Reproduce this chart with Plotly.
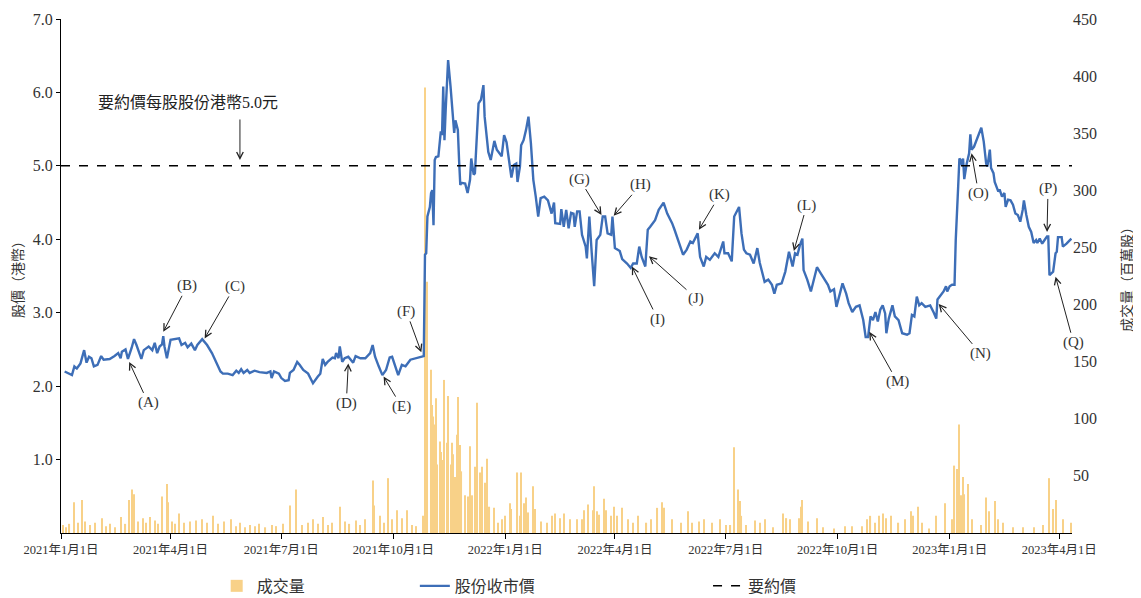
import pandas as pd
import plotly.graph_objects as go

# ---------------- data ----------------
BASE = "2021-01-01"
# closing price (HK$), day offsets from 2021-01-01
price_day = [3, 6, 9, 11, 13, 16, 19, 21, 23, 25, 27, 30, 33, 35, 40, 44, 47, 49, 50, 53, 55, 58, 60, 62, 66, 68, 72, 75, 77, 79,
             81, 83, 84, 85, 87, 90, 93, 97, 99, 102, 104, 107, 110, 112, 116, 120, 124, 128, 131, 133, 137, 141, 144, 146, 148,
             150, 153, 155, 159, 163, 169, 172, 173, 175, 179, 181, 184, 187, 188, 191, 194, 196, 199, 203, 207, 211, 213, 215,
             217, 219, 221, 223, 225, 226, 228, 229, 231, 233, 236, 240, 242, 246, 250, 254, 256, 258, 261, 264, 267, 270, 272,
             274, 277, 280, 283, 287, 292, 296, 298, 299, 300, 301, 303, 304, 305, 306, 307, 308, 310, 312, 313, 314, 315, 316,
             318, 320, 323, 324, 326, 327, 328, 329, 332, 334, 336, 337, 339, 340, 343, 345, 347, 348, 351, 353, 356, 358, 360,
             362, 364, 366, 368, 370, 372, 374, 375, 377, 378, 380, 382, 384, 386, 388, 390, 392, 394, 397, 400, 403, 405, 406,
             410, 411, 413, 415, 417, 419, 421, 422, 424, 426, 428, 431, 432, 434, 436, 438, 440, 443, 445, 447, 449, 452, 453,
             455, 459, 461, 465, 468, 470, 473, 475, 477, 480, 482, 484, 488, 491, 495, 498, 502, 504, 507, 511, 514, 517, 519,
             523, 525, 528, 530, 533, 537, 540, 544, 545, 548, 551, 553, 557, 559, 561, 563, 566, 569, 572, 574, 578, 581, 584,
             586, 588, 592, 595, 598, 601, 603, 605, 607, 609, 610, 613, 616, 619, 621, 624, 627, 630, 632, 635, 637, 639, 642,
             645, 647, 650, 653, 656, 659, 661, 663, 665, 667, 669, 671, 673, 675, 677, 678, 680, 683, 685, 688, 691, 695, 697,
             699, 701, 703, 705, 707, 710, 714, 717, 719, 720, 722, 725, 727, 728, 730, 732, 734, 735, 737, 738, 739, 740, 741,
             742, 744, 745, 746, 747, 748, 750, 752, 756, 758, 760, 761, 763, 764, 766, 767, 769, 770, 771, 773, 775, 776, 778,
             780, 782, 784, 786, 788, 790, 791, 793, 795, 797, 799, 801, 802, 804, 806, 808, 810, 811, 812, 815, 817, 818, 819,
             822, 823, 826, 830]
price_hkd = [2.20, 2.18, 2.15, 2.27, 2.24, 2.31, 2.49, 2.32, 2.40, 2.38, 2.27, 2.29, 2.41, 2.36, 2.37, 2.41, 2.45, 2.38, 2.47,
             2.50, 2.37, 2.52, 2.64, 2.56, 2.37, 2.49, 2.54, 2.49, 2.59, 2.45, 2.54, 2.57, 2.68, 2.54, 2.38, 2.63, 2.64, 2.65,
             2.56, 2.59, 2.53, 2.58, 2.49, 2.56, 2.64, 2.56, 2.45, 2.31, 2.20, 2.17, 2.17, 2.15, 2.21, 2.18, 2.23, 2.18, 2.22,
             2.18, 2.21, 2.19, 2.18, 2.20, 2.11, 2.20, 2.17, 2.11, 2.07, 2.08, 2.18, 2.22, 2.33, 2.29, 2.22, 2.17, 2.04, 2.13,
             2.17, 2.37, 2.29, 2.33, 2.36, 2.39, 2.38, 2.45, 2.38, 2.54, 2.33, 2.38, 2.40, 2.32, 2.41, 2.38, 2.38, 2.45, 2.56,
             2.40, 2.27, 2.15, 2.22, 2.39, 2.40, 2.29, 2.15, 2.29, 2.27, 2.36, 2.38, 2.40, 2.41, 3.79, 3.81, 4.31, 4.44, 4.63,
             4.67, 4.19, 5.08, 5.12, 5.13, 5.47, 5.42, 6.08, 5.35, 5.76, 6.44, 6.08, 5.45, 5.62, 5.49, 5.08, 4.74, 4.77, 4.76,
             4.63, 4.81, 5.10, 4.88, 4.90, 5.85, 5.90, 6.10, 5.67, 5.19, 5.08, 5.34, 5.22, 5.18, 5.13, 5.42, 5.32, 5.08, 4.84,
             5.01, 5.03, 4.78, 4.99, 5.28, 5.35, 5.49, 5.67, 5.31, 4.81, 4.58, 4.31, 4.56, 4.58, 4.53, 4.35, 4.50, 4.22, 4.21,
             4.41, 4.17, 4.40, 4.15, 4.36, 4.35, 4.17, 4.38, 4.38, 4.06, 3.90, 3.74, 4.31, 3.81, 3.36, 3.99, 4.06, 4.31, 4.31,
             4.08, 4.06, 4.31, 3.88, 3.84, 3.73, 3.67, 3.61, 3.67, 3.67, 3.90, 3.76, 3.63, 4.13, 4.17, 4.26, 4.40, 4.50, 4.35,
             4.22, 4.13, 3.99, 3.79, 3.86, 3.97, 3.95, 4.08, 3.76, 3.63, 3.76, 3.72, 3.81, 3.76, 3.97, 3.81, 3.81, 3.70, 4.31,
             4.44, 4.08, 3.86, 3.81, 3.79, 3.67, 3.88, 3.68, 3.42, 3.45, 3.38, 3.26, 3.38, 3.40, 3.56, 3.83, 3.63, 3.81, 3.79,
             3.92, 4.01, 3.58, 3.45, 3.29, 3.49, 3.62, 3.54, 3.45, 3.38, 3.29, 3.32, 3.08, 3.22, 3.40, 3.26, 3.13, 3.01, 3.08,
             3.10, 2.90, 2.67, 2.67, 2.95, 2.90, 3.01, 2.88, 3.04, 3.10, 2.99, 2.72, 2.92, 3.10, 2.95, 2.90, 2.72, 2.70, 2.72,
             2.97, 2.95, 3.22, 3.10, 3.13, 3.08, 3.10, 3.00, 2.92, 3.18, 3.22, 3.29, 3.36, 3.29, 3.36, 3.38, 3.38, 3.99, 4.72,
             5.10, 5.08, 5.01, 5.10, 4.82, 5.03, 5.12, 5.17, 5.43, 5.22, 5.26, 5.35, 5.52, 5.33, 5.03, 4.99, 5.22, 4.97, 4.90,
             4.78, 4.69, 4.65, 4.68, 4.58, 4.63, 4.44, 4.54, 4.53, 4.47, 4.35, 4.33, 4.24, 4.40, 4.53, 4.33, 4.17, 4.10, 3.95,
             3.99, 3.95, 4.01, 3.94, 3.99, 4.04, 4.04, 3.51, 3.56, 3.81, 3.83, 4.03, 4.03, 3.90, 3.94, 4.01]

# trading volume (million shares), day offsets from 2021-01-01
vol_day = [2, 4, 7, 11, 14, 17, 20, 24, 28, 34, 37, 40, 44, 49, 53, 56, 58, 60, 63, 67, 70, 73, 77, 80, 83, 87, 88, 91, 94, 97,
           101, 106, 111, 116, 120, 125, 129, 134, 140, 144, 147, 151, 155, 159, 163, 168, 173, 177, 182, 188, 193, 198, 203,
           207, 211, 215, 219, 223, 229, 233, 237, 242, 246, 250, 256, 257, 262, 265, 269, 272, 276, 280, 284, 288, 292, 297,
           299, 301, 304, 305, 306, 307, 308, 309, 311, 312, 314, 315, 317, 318, 320, 321, 322, 324, 325, 326, 328, 329, 332,
           334, 336, 338, 340, 342, 344, 346, 348, 349, 350, 352, 356, 359, 362, 365, 369, 370, 375, 377, 378, 380, 382, 384,
           388, 389, 394, 399, 403, 406, 410, 413, 418, 424, 428, 430, 433, 437, 438, 440, 442, 446, 448, 452, 454, 457, 461,
           466, 470, 474, 481, 485, 490, 494, 495, 502, 509, 515, 518, 524, 528, 535, 541, 546, 550, 553, 556, 558, 559, 563,
           570, 574, 578, 585, 593, 596, 599, 606, 608, 609, 614, 621, 626, 635, 644, 650, 658, 662, 665, 669, 672, 675, 678,
           682, 688, 693, 698, 700, 704, 707, 713, 719, 726, 732, 734, 736, 738, 739, 741, 742, 745, 748, 756, 760, 762, 767,
           770, 774, 782, 790, 799, 807, 812, 815, 817, 823, 830]
vol_mn = [7, 5, 8, 27, 9, 29, 10, 7, 9, 13, 6, 8, 5, 14, 8, 29, 38, 34, 10, 13, 9, 14, 11, 8, 32, 43, 27, 10, 8, 17,
          9, 10, 11, 12, 9, 15, 8, 10, 12, 6, 9, 5, 7, 6, 8, 5, 7, 6, 8, 24, 38, 7, 9,
          12, 8, 14, 7, 9, 23, 10, 8, 11, 7, 12, 46, 24, 15, 9, 48, 12, 20, 13, 20, 7, 6, 15,
          390, 220, 143, 112, 102, 95, 118, 60, 80, 71, 64, 134, 79, 120, 60, 79, 69, 49, 86, 119, 77, 54, 33,
          32, 76, 33, 58, 114, 53, 58, 44, 23, 65, 23, 22, 9, 12, 15, 26, 21, 53, 15, 53, 26, 31, 18,
          41, 21, 10, 9, 15, 17, 13, 17, 12, 12, 12, 20, 25, 20, 41, 19, 16, 30, 20, 15, 23, 15, 22,
          12, 9, 15, 9, 12, 22, 27, 22, 12, 9, 19, 9, 10, 12, 9, 12, 7, 7, 75, 38, 28, 15, 7,
          11, 9, 12, 5, 17, 13, 12, 13, 23, 29, 10, 13, 5, 4, 6, 6, 6, 12, 15, 9, 15, 17, 13,
          15, 9, 12, 19, 15, 23, 9, 4, 15, 26, 12, 59, 56, 95, 33, 49, 34, 43, 12, 7, 31, 19, 28,
          12, 9, 5, 5, 5, 7, 48, 21, 29, 12, 9]

offer_price = 5.0
x_start, x_end = "2021-01-01", "2023-04-11 12:00"

x_tick_dates = ["2021-01-01", "2021-04-01", "2021-07-01", "2021-10-01", "2022-01-01",
                "2022-04-01", "2022-07-01", "2022-10-01", "2023-01-01", "2023-04-01"]
x_tick_text = ["2021年1月1日", "2021年4月1日", "2021年7月1日", "2021年10月1日", "2022年1月1日",
               "2022年4月1日", "2022年7月1日", "2022年10月1日", "2023年1月1日", "2023年4月1日"]
price_ticks = [1, 2, 3, 4, 5, 6, 7]
price_tick_text = ["1.0", "2.0", "3.0", "4.0", "5.0", "6.0", "7.0"]
vol_ticks = [50, 100, 150, 200, 250, 300, 350, 400, 450]

# annotated events: label, day offset, price at arrow head
event_label = ["(A)", "(B)", "(C)", "(D)", "(E)", "(F)", "(G)", "(H)", "(I)", "(J)", "(K)", "(L)", "(M)", "(N)", "(O)", "(P)", "(Q)"]
event_day = [56, 84, 118, 236, 265, 296, 444, 454, 469, 483, 524, 602, 664, 721, 748, 810, 817]
event_price = [2.33, 2.74, 2.65, 2.31, 2.13, 2.46, 4.33, 4.32, 3.63, 3.77, 4.13, 3.84, 2.74, 3.12, 5.17, 4.10, 3.49]

# ---------------- layout helpers (pixel offsets of labels) ----------------
event_ax = [19, 24, 30, -2, 18, -15, -22, 27, 26, 47, 21, 13, 28, 42, 7, 1, 18]
event_ay = [41, -46, -52, 40, 30, -41, -36, -31, 53, 42, -35, -46, 50, 50, 40, -43, 66]

base = pd.Timestamp(BASE)
price_dates = base + pd.to_timedelta(price_day, unit="D")
vol_dates = base + pd.to_timedelta(vol_day, unit="D")
event_dates = base + pd.to_timedelta(event_day, unit="D")

SERIF = "Liberation Serif, Times New Roman, Noto Sans CJK TC, serif"
BLUE = "#3D6EB7"
ORANGE = "#F5B43A"

fig = go.Figure()
fig.add_trace(go.Bar(x=vol_dates, y=vol_mn, name="成交量", marker=dict(color=ORANGE, line=dict(width=0)),
                     width=86400000 * 0.9, opacity=0.6, yaxis="y", legend="legend"))
fig.add_trace(go.Scatter(x=price_dates, y=price_hkd, name="股份收市價", mode="lines",
                         line=dict(color=BLUE, width=2.4), yaxis="y2", legend="legend2"))
fig.add_trace(go.Scatter(x=[pd.Timestamp(x_start), pd.Timestamp(x_end)], y=[offer_price, offer_price], name="要約價",
                         mode="lines", line=dict(color="black", width=1.5, dash="dash"), yaxis="y2", legend="legend3"))

annotations = []
for lab, d, p, ax, ay in zip(event_label, event_dates, event_price, event_ax, event_ay):
    annotations.append(dict(x=d, y=p, xref="x", yref="y2", text=lab, showarrow=True, arrowhead=5,
                            arrowsize=1.3, arrowwidth=1, arrowcolor="#222", ax=ax, ay=ay,
                            font=dict(family=SERIF, size=15, color="#333")))
annotations.append(dict(x=base + pd.Timedelta(days=147), y=5.08, xref="x", yref="y2", text="", showarrow=True,
                        arrowhead=5, arrowsize=1.3, arrowwidth=1, arrowcolor="#222", ax=0, ay=-42))
annotations.append(dict(x=base + pd.Timedelta(days=104), y=5.86, xref="x", yref="y2",
                        text="要約價每股股份港幣5.0元", showarrow=False,
                        font=dict(family=SERIF, size=16, color="#222")))

legend_common = dict(orientation="h", yanchor="middle", xanchor="left", y=-0.103, bgcolor="rgba(0,0,0,0)",
                     font=dict(family=SERIF, size=16, color="#333"), itemwidth=30)

# the page body adds an 8px margin, so the figure is sized/placed to land on the reference's pixels
fig.update_layout(
    width=1133, height=590,
    margin=dict(l=53, r=69, t=11, b=65, autoexpand=False),
    paper_bgcolor="white", plot_bgcolor="white",
    xaxis=dict(type="date", range=[x_start, x_end], tickvals=x_tick_dates, ticktext=x_tick_text,
               showgrid=False, zeroline=False, showline=True, linecolor="black", linewidth=1,
               ticks="outside", ticklen=5, tickcolor="black", automargin=False,
               tickfont=dict(family=SERIF, size=12.5, color="#333")),
    yaxis=dict(range=[0, 450], side="right", tickvals=vol_ticks, showgrid=False, zeroline=False, showline=False,
               ticks="", automargin=False, tickfont=dict(family=SERIF, size=16, color="#333"),
               title=dict(text="成交量（百萬股）", font=dict(family=SERIF, size=14, color="#333"), standoff=26)),
    yaxis2=dict(range=[0, 7], overlaying="y", side="left", tickvals=price_ticks, ticktext=price_tick_text,
                showgrid=False, zeroline=False, showline=True, linecolor="black", linewidth=1,
                ticks="outside", ticklen=4, tickcolor="black", automargin=False,
                tickfont=dict(family=SERIF, size=16, color="#333"),
                title=dict(text="股價（港幣）", font=dict(family=SERIF, size=14, color="#333"), standoff=5)),
    legend=dict(x=0.154, **legend_common),
    legend2=dict(x=0.35, **legend_common),
    legend3=dict(x=0.64, **legend_common),
    annotations=annotations,
    showlegend=True,
)

fig.write_html("out.html")
